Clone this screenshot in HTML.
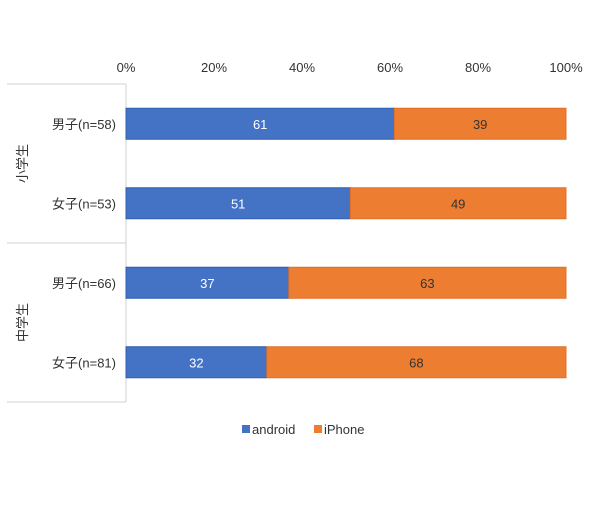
<!DOCTYPE html>
<html><head><meta charset="utf-8"><style>
body{margin:0;background:#fff}
svg text{font-family:"Liberation Sans","Noto Sans CJK JP",sans-serif}
</style></head><body>
<svg id="chart" width="600" height="500" xmlns="http://www.w3.org/2000/svg">
<g id="axes"></g><g id="bars"></g>
<g>
<rect x="242" y="425" width="8" height="8" fill="#4472c4"/>
<text x="252" y="434" font-size="13" fill="#333">android</text>
<rect x="314" y="425" width="8" height="8" fill="#ed7d31"/>
<text x="324" y="434" font-size="13" fill="#333">iPhone</text>
</g>
</svg>
<script>
const categories=["男子(n=58)","女子(n=53)","男子(n=66)","女子(n=81)"];
const android=[61,51,37,32];
const iphone=[39,49,63,68];
const ticks=[0,20,40,60,80,100];
const groups=["小学生","中学生"];
const NS="http://www.w3.org/2000/svg";
const x0=126,x1=566,yTop=84,yBottom=402;
const xs=v=>x0+(x1-x0)*v/100;
const band=(yBottom-yTop)/categories.length;
const ax=document.getElementById('axes'),bg=document.getElementById('bars');
function mk(t,a,p,txt){const e=document.createElementNS(NS,t);for(const k in a)e.setAttribute(k,a[k]);if(txt!==undefined)e.textContent=txt;p.appendChild(e);return e;}
let e=mk('line',{x1:x0,x2:x0,y1:yTop,y2:yBottom,stroke:'#d0d0d0'},ax);


ticks.forEach(t=>{const el=mk('text',{x:xs(t),y:72,'font-size':13,fill:'#333','text-anchor':'middle'},ax,t+'%');

});
[0,2,4].forEach(i=>{const y=yTop+band*i;const el=mk('line',{x1:7,x2:x0,y1:y,y2:y,stroke:'#d0d0d0'},ax);

});
groups.forEach((g,i)=>{const cy=yTop+band*(2*i+1);const el=mk('text',{x:0,y:0,'font-size':13,fill:'#333','text-anchor':'middle',transform:`translate(27,${cy}) rotate(-90)`},ax,g);

});
categories.forEach((c,i)=>{const cy=yTop+band*(i+0.5);const bh=31;const y=cy-bh/2;
let el=mk('text',{x:116,y:cy+5,'font-size':13,fill:'#333','text-anchor':'end'},ax,c);


const a=android[i],p=iphone[i];
el=mk('rect',{x:xs(0),y:y,width:xs(a)-xs(0),height:bh,fill:'#4472c4',stroke:'#2f5fb3','stroke-width':1},bg);


el=mk('rect',{x:xs(a),y:y,width:xs(a+p)-xs(a),height:bh,fill:'#ed7d31',stroke:'#e0702a','stroke-width':1},bg);


el=mk('text',{x:(xs(0)+xs(a))/2,y:cy+5,'font-size':13,fill:'#fff','text-anchor':'middle'},bg,a);


el=mk('text',{x:(xs(a)+xs(a+p))/2,y:cy+5,'font-size':13,fill:'#333','text-anchor':'middle'},bg,p);


});
</script>
</body></html>
